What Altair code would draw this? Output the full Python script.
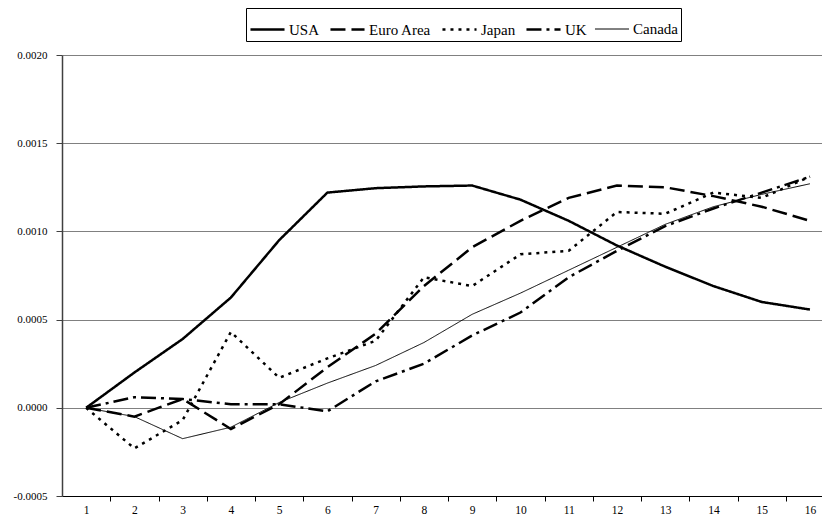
import altair as alt
import pandas as pd

periods = list(range(1, 17))
series_names = ["USA", "Euro Area", "Japan", "UK", "Canada"]

usa = [0.0, 0.00020, 0.00039, 0.000625, 0.00095, 0.00122, 0.001245, 0.001255, 0.00126,
       0.00118, 0.00106, 0.00092, 0.00080, 0.00069, 0.00060, 0.000557]
euro = [0.0, -0.00005, 0.00005, -0.00012, 0.00002, 0.00023, 0.00042, 0.00069, 0.00091,
        0.00106, 0.00119, 0.00126, 0.00125, 0.00120, 0.00114, 0.00106]
japan = [0.0, -0.00023, -0.00007, 0.00043, 0.00017, 0.00028, 0.00038, 0.00074, 0.00069,
         0.00087, 0.00089, 0.00111, 0.00110, 0.00122, 0.00119, 0.00131]
uk = [0.0, 0.00006, 0.00005, 0.00002, 0.00002, -0.00002, 0.00015, 0.00025, 0.00041,
      0.00054, 0.00074, 0.00089, 0.00103, 0.00113, 0.00122, 0.00131]
canada = [0.0, -0.00005, -0.000175, -0.00011, 0.00003, 0.00014, 0.00024, 0.00037, 0.00053,
          0.00065, 0.00078, 0.00091, 0.00104, 0.00114, 0.00121, 0.00127]

y_ticks = [-0.0005, 0.0, 0.0005, 0.0010, 0.0015, 0.0020]
x_ticks = [v / 2 for v in range(2, 33)]  # 1, 1.5, ..., 16

rows = []
for name, vals in zip(series_names, [usa, euro, japan, uk, canada]):
    for p, v in zip(periods, vals):
        rows.append({"period": p, "value": v, "series": name})
df = pd.DataFrame(rows)

serif = "Liberation Serif"

legend = alt.Legend(
    title=None,
    orient="none",
    legendX=184,
    legendY=-47,
    direction="horizontal",
    gridAlign="none",
    strokeColor="black",
    fillColor="white",
    padding=3,
    labelFont=serif,
    labelFontSize=15,
    labelColor="black",
    labelOffset=3,
    columnPadding=5,
    symbolType="stroke",
    symbolSize=1160,
    symbolStrokeColor="black",
)

chart = alt.Chart(df).mark_line(color="black").encode(
    x=alt.X(
        "period:Q",
        scale=alt.Scale(domain=[0.5, 16.25], nice=False, zero=False),
        axis=alt.Axis(
            values=x_ticks,
            labelExpr="datum.value % 1 == 0 ? datum.value : ''",
            tickOpacity={"condition": {"test": "datum.value % 1 == 0", "value": 0}, "value": 1},
            grid=False,
            title=None,
            labelOverlap=False,
            labelFlush=False,
            domainColor="black",
            tickColor="black",
            tickSize=5,
            labelPadding=3,
            labelFont=serif,
            labelFontSize=11.5,
            labelColor="black",
        ),
    ),
    y=alt.Y(
        "value:Q",
        scale=alt.Scale(domain=[-0.0005, 0.0020], nice=False, zero=False),
        axis=alt.Axis(
            values=y_ticks,
            labelExpr="datum.value < 0 ? '-' + format(-datum.value, '.4f') : format(datum.value, '.4f')",
            grid=True,
            gridColor="#808080",
            gridWidth=1,
            title=None,
            domainColor="#404040",
            domainWidth=1.5,
            tickColor="#404040",
            tickSize=6,
            labelPadding=9,
            labelFont=serif,
            labelFontSize=11,
            labelColor="black",
        ),
    ),
    strokeDash=alt.StrokeDash(
        "series:N",
        scale=alt.Scale(domain=series_names,
                        range=[[1, 0], [15, 6], [3, 5], [15, 5, 3, 5], [1, 0]]),
        legend=legend,
    ),
    strokeWidth=alt.StrokeWidth(
        "series:N",
        scale=alt.Scale(type="ordinal", domain=series_names, range=[2.5, 2.5, 2.5, 2.5, 1]),
        legend=legend,
    ),
).properties(
    width=760,
    height=441,
    autosize="none",
    padding={"left": 54, "top": 47, "right": 0, "bottom": 22},
).configure(
    font=serif
).configure_view(stroke=None)

chart.save("out.html", embed_options={"renderer": "svg", "actions": False})
